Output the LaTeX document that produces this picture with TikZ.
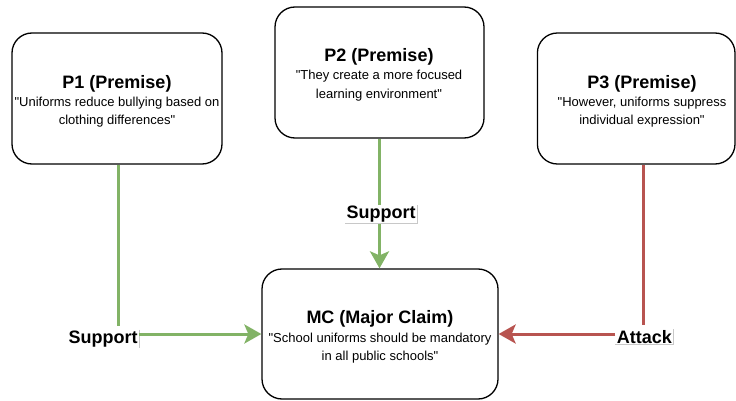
\documentclass[tikz,border=0pt]{standalone}
\usepackage{fontspec}
\setmainfont{Liberation Sans}[Ligatures=TeXOff]
\usetikzlibrary{arrows.meta,calc}
\definecolor{supgreen}{HTML}{82B366}
\definecolor{attred}{HTML}{B85450}
\definecolor{lblgray}{HTML}{C8C8C8}
\begin{document}
\begin{tikzpicture}[x=1pt,y=-1pt,
  box/.style={draw=black,line width=1.3pt,rounded corners=20pt,fill=white,inner sep=0pt},
  boxtext/.style={align=center,inner sep=0pt,font=\fontsize{13}{18.3}\selectfont},
  lbl/.style={fill=white,inner xsep=1.3pt,inner ysep=0.7pt,anchor=base,font=\fontsize{18}{20}\selectfont\bfseries},
  lbledge/.style={draw=lblgray,line width=0.6pt},
  gl/.style={draw=supgreen,line width=3pt},
  rl/.style={draw=attred,line width=3pt},
  tip/.style={-{Stealth[length=17pt,width=19pt,inset=4pt]}}]
\useasboundingbox (0,0) rectangle (736,401);
\newcommand{\ttl}[1]{{\fontsize{18}{21}\selectfont\bfseries #1}}
% boxes
\node[box,minimum width=210pt,minimum height=131pt] (p1) at (117,98.5) {};
\node[box,minimum width=209pt,minimum height=131pt] (p2) at (379.5,72.5) {};
\node[box,minimum width=197.6pt,minimum height=131pt] (p3) at (636.2,98.5) {};
\node[box,minimum width=236pt,minimum height=130pt] (mc) at (380,334) {};
% texts
\node[boxtext] (p1t) at (117,101.5) {\ttl{P1 (Premise)}\\"Uniforms reduce bullying based on\\clothing differences"};
\node[boxtext] (p2t) at (379,74.8) {\ttl{P2 (Premise)}\\"They create a more focused\\learning environment"};
\node[boxtext] (p3t) at (642,101.5) {\ttl{P3 (Premise)}\\"However, uniforms suppress\\individual expression"};
\node[boxtext] (mct) at (380,337) {\ttl{MC (Major Claim)}\\"School uniforms should be mandatory\\in all public schools"};
% P1 -> MC
\node[lbl] (s1) at (103,343) {Support};
\draw[lbledge] (s1.north east) -- (s1.south east);
\coordinate (x1) at (118,0);
\draw[gl] (x1 |- p1.south) -- ([yshift=4pt]x1 |- s1.north);
\draw[gl,tip] (s1.east |- mc.west) -- (mc.west);
% P2 -> MC
\coordinate (x2) at (379.5,0);
\draw[gl,tip] (x2 |- p2.south) -- (x2 |- mc.north);
\node[lbl] (s2) at (381,218.5) {Support};
\draw[lbledge] (s2.north east) -- (s2.south east) -- (s2.south west);
% P3 -> MC
\node[lbl] (a3) at (644.5,343) {Attack};
\draw[lbledge] (a3.north east) -- (a3.south east) -- (a3.south west);
\coordinate (x3) at (643,0);
\draw[rl] (x3 |- p3.south) -- ([yshift=4pt]x3 |- a3.north);
\draw[rl,tip] (a3.west |- mc.east) -- (mc.east);
\end{tikzpicture}
\end{document}
